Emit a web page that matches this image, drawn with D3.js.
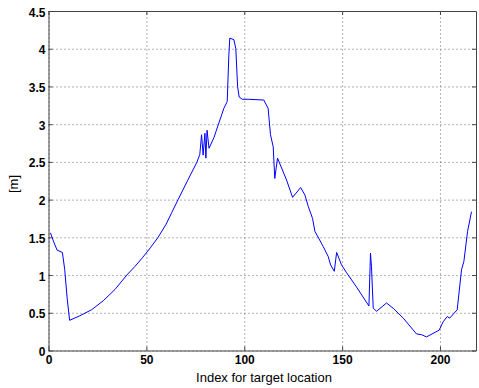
<!DOCTYPE html>
<html>
<head>
<meta charset="utf-8">
<script src="https://cdn.jsdelivr.net/npm/d3@7"></script>
<style>
  body { margin: 0; background: #fff; }
  .tick text { font-family: "Liberation Sans", Arial, sans-serif; font-size: 12px; font-weight: bold; fill: #000; }
</style>
</head>
<body>
<svg id="chart" width="479" height="388"></svg>
<script>
// index along the track and measured distance [m]
var indexVals = [1, 2.5, 4.4, 7.1, 8.3, 9.5, 10.8, 16, 22, 28, 34, 40, 44, 48, 52, 56, 60, 63, 66.2, 71, 75.9,
    77.3, 78.2, 79, 79.9, 80.4, 81, 82, 84.5, 86.7, 89.6, 91.3, 92.1, 92.6, 94.7, 95.7, 96.6, 97.4, 99,
    102, 110, 112.2, 113.4, 114.8, 115.6, 117, 121.6, 124.7, 128.8, 131, 132.7, 134.9, 136.1, 140.3,
    142.9, 144.1, 146, 147.2, 149.7, 152.3, 157.4, 163.7, 164.5, 165, 165.9, 167.6, 172.7, 176.1,
    181.2, 188, 190.6, 193.1, 199.6, 201.6, 203.7, 205, 208.8, 211, 212.2, 214.1, 216.1];
var meterVals = [1.56, 1.45, 1.33, 1.30, 1.07, 0.70, 0.40, 0.46, 0.54, 0.66, 0.81, 1.0, 1.11, 1.23, 1.36, 1.50, 1.67, 1.83, 2.00, 2.25, 2.50,
    2.60, 2.86, 2.59, 2.88, 2.55, 2.92, 2.68, 2.82, 2.99, 3.21, 3.30, 3.89, 4.14, 4.12, 4.0, 3.5, 3.36, 3.33,
    3.33, 3.32, 3.21, 2.86, 2.70, 2.28, 2.55, 2.26, 2.03, 2.16, 2.06, 1.91, 1.75, 1.58, 1.38,
    1.245, 1.135, 1.05, 1.30, 1.135, 1.03, 0.84, 0.59, 1.29, 1.11, 0.56, 0.52, 0.63, 0.56,
    0.43, 0.22, 0.21, 0.18, 0.27, 0.38, 0.45, 0.43, 0.54, 1.07, 1.18, 1.58, 1.84];
var xTicks = [0, 50, 100, 150, 200];
var yTicks = [0, 0.5, 1, 1.5, 2, 2.5, 3, 3.5, 4, 4.5];

var svg = d3.select("#chart");
var padLeft = 48.5, padRight = 476, padTop = 11, padBottom = 350.5;
var w = padRight - padLeft, h = padBottom - padTop;

var x = d3.scaleLinear().domain([0, 218.4]).range([0, w]);
var y = d3.scaleLinear().domain([0, 4.5]).range([h, 0]);

var g = svg.append("g").attr("transform", "translate(" + padLeft + "," + padTop + ")");

// dotted grid
var gridX = g.append("g").attr("transform", "translate(0," + h + ")")
    .call(d3.axisBottom(x).tickValues(xTicks).tickSize(-h).tickFormat(""));
var gridY = g.append("g")
    .call(d3.axisLeft(y).tickValues(yTicks).tickSize(-w).tickFormat(""));
[gridX, gridY].forEach(function (gr) {
    gr.select(".domain").remove();
    gr.selectAll("line").attr("stroke", "#666").attr("stroke-dasharray", "1,3");
});

// data line
var line = d3.line()
    .x(function (d, i) { return x(indexVals[i]); })
    .y(function (d) { return y(d); });
g.append("path")
    .datum(meterVals)
    .attr("d", line)
    .attr("fill", "none")
    .attr("stroke", "#0000ff")
    .attr("stroke-width", 1);

// axes box with inside ticks
var xAxis = g.append("g").attr("transform", "translate(0," + h + ")")
    .call(d3.axisBottom(x).tickValues(xTicks).tickSizeInner(-4).tickSizeOuter(0).tickPadding(5));
var yAxis = g.append("g")
    .call(d3.axisLeft(y).tickValues(yTicks).tickFormat(d3.format("")).tickSizeInner(-4).tickSizeOuter(0).tickPadding(3));
var topAxis = g.append("g")
    .call(d3.axisTop(x).tickValues(xTicks).tickSizeInner(-4).tickSizeOuter(0).tickFormat(""));
var rightAxis = g.append("g").attr("transform", "translate(" + w + ",0)")
    .call(d3.axisRight(y).tickValues(yTicks).tickSizeInner(-4).tickSizeOuter(0).tickFormat(""));
[xAxis, yAxis, topAxis, rightAxis].forEach(function (ax) {
    ax.select(".domain").attr("stroke", "#444");
    ax.selectAll(".tick line").attr("stroke", "#444");
});
yAxis.selectAll(".tick text").attr("dy", "0.42em");

// labels
svg.append("text")
    .attr("x", 264).attr("y", 382)
    .attr("text-anchor", "middle")
    .style("font-family", "Liberation Sans, Arial, sans-serif")
    .style("font-size", "13px")
    .text("Index for target location");

svg.append("text")
    .attr("transform", "translate(18,184) rotate(-90)")
    .attr("text-anchor", "middle")
    .style("font-family", "Liberation Sans, Arial, sans-serif")
    .style("font-size", "13px")
    .text("[m]");
</script>
</body>
</html>
